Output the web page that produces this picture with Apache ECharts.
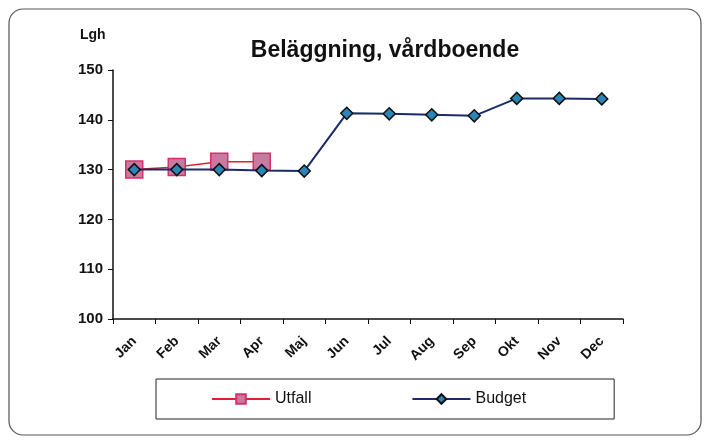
<!DOCTYPE html>
<html>
<head>
<meta charset="utf-8">
<script src="https://cdn.jsdelivr.net/npm/echarts@6/dist/echarts.min.js"></script>
<style>
  html, body { margin: 0; padding: 0; background: #fff; }
  #chart { width: 710px; height: 444px; }
</style>
</head>
<body>
<div id="chart"></div>
<script>
// data
const months = ["Jan", "Feb", "Mar", "Apr", "Maj", "Jun", "Jul", "Aug", "Sep", "Okt", "Nov", "Dec"];
const utfall = [130, 130.5, 131.6, 131.6, null, null, null, null, null, null, null, null];
const budget = [130, 130, 130, 129.8, 129.7, 141.3, 141.2, 141, 140.8, 144.3, 144.3, 144.2];

const myChart = echarts.init(document.getElementById("chart"));

const option = {
  animation: false,
  textStyle: { fontFamily: "Liberation Sans, Arial, sans-serif" },
  title: {
    text: "Beläggning, vårdboende",
    left: 380,
    top: 34,
    textAlign: "center",
    textStyle: { fontSize: 23, fontWeight: "bold", color: "#111" }
  },
  graphic: [
    {
      type: "rect",
      shape: { x: 9, y: 9, width: 692, height: 426, r: 14 },
      style: { fill: "none", stroke: "#555", lineWidth: 1.2 },
      silent: true
    },
    {
      type: "text",
      left: 80,
      top: 28,
      style: { text: "Lgh", fontSize: 14, fontWeight: "bold", fill: "#111" }
    }
  ],
  legend: {
    left: 156,
    top: 379,
    itemGap: 100,
    padding: [12, 88, 12, 55],
    borderColor: "#222",
    borderWidth: 1,
    itemWidth: 58,
    itemHeight: 12,
    textStyle: { fontSize: 16, color: "#111" },
    data: ["Utfall", "Budget"]
  },
  grid: { left: 113, right: 87, top: 70, bottom: 125 },
  xAxis: {
    type: "category",
    data: months,
    boundaryGap: true,
    axisLine: { lineStyle: { color: "#111", width: 1.5 } },
    axisTick: { show: true, alignWithLabel: false, length: 5, lineStyle: { color: "#111" } },
    axisLabel: { rotate: 45, fontSize: 14, fontWeight: "bold", color: "#111", margin: 20 }
  },
  yAxis: {
    type: "value",
    min: 100,
    max: 150,
    interval: 10,
    splitLine: { show: false },
    axisLine: { show: true, lineStyle: { color: "#111", width: 1.5 } },
    axisTick: { show: true, length: 5, lineStyle: { color: "#111" } },
    axisLabel: { fontSize: 15, fontWeight: "bold", color: "#111", margin: 10 }
  },
  series: [
    {
      name: "Budget",
      type: "line",
      data: budget,
      symbol: "diamond",
      symbolSize: 12,
      z: 3,
      lineStyle: { color: "#1b2a6b", width: 2 },
      itemStyle: { color: "#2b86b8", borderColor: "#111", borderWidth: 1.5 }
    },
    {
      name: "Utfall",
      type: "line",
      data: utfall,
      symbol: "rect",
      symbolSize: 17,
      z: 2,
      lineStyle: { color: "#e0202a", width: 1.5 },
      itemStyle: { color: "#c87aa0", borderColor: "#d6306a", borderWidth: 1.5 }
    }
  ]
};

myChart.setOption(option);
</script>
</body>
</html>
